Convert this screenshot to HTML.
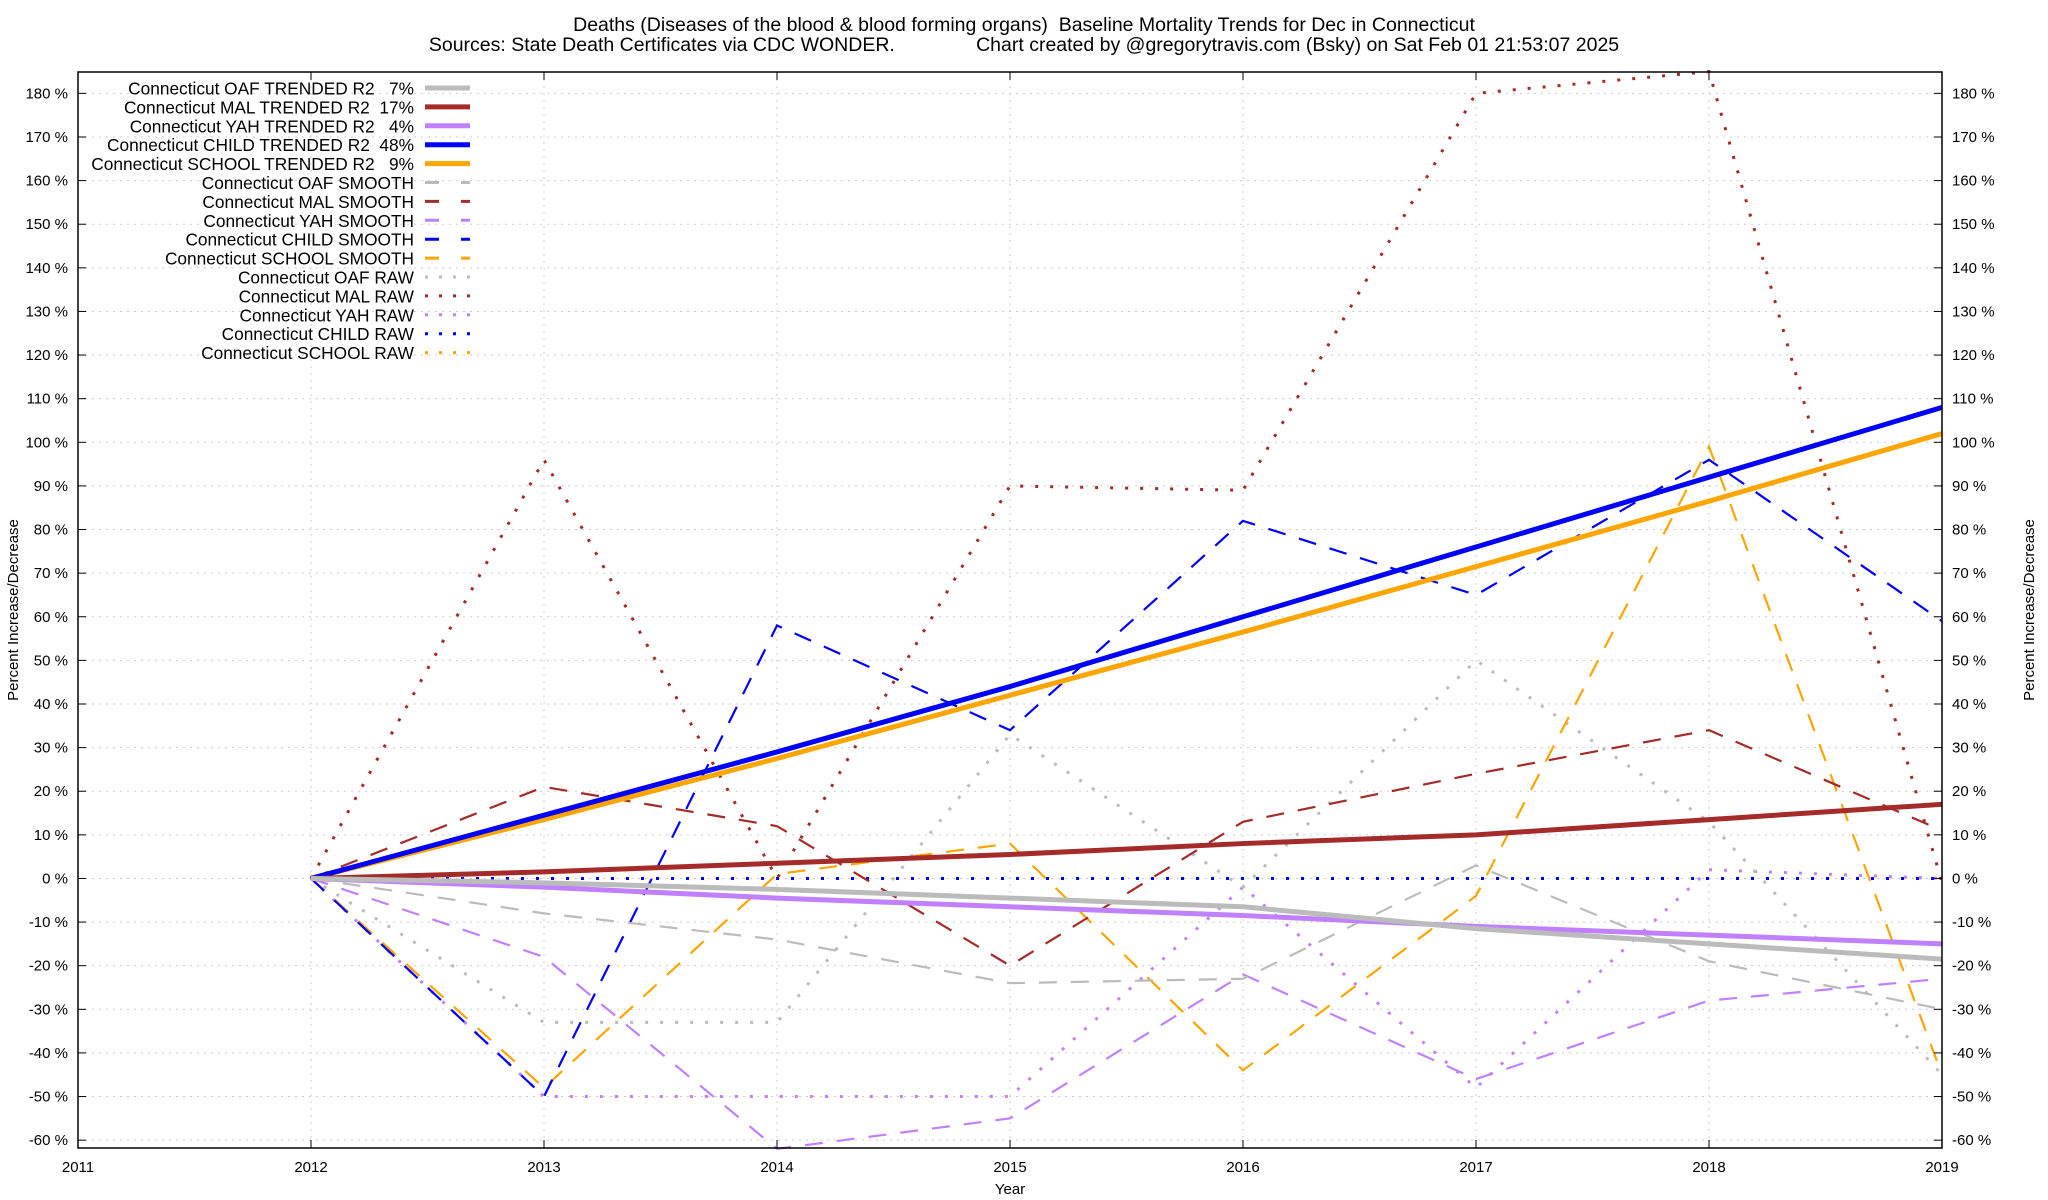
<!DOCTYPE html>
<html><head><meta charset="utf-8"><style>
body{margin:0;background:#fff}
svg{display:block;font-family:"Liberation Sans",Arial,sans-serif}
text{white-space:pre}
</style></head><body>
<svg id="c" width="2048" height="1200" viewBox="0 0 2048 1200">
<rect width="2048" height="1200" fill="#fff"/>
<text x="1024" y="31" font-size="19.5" text-anchor="middle">Deaths (Diseases of the blood &amp; blood forming organs)  Baseline Mortality Trends for Dec in Connecticut</text>
<text x="1024" y="51" font-size="19.5" text-anchor="middle">Sources: State Death Certificates via CDC WONDER.               Chart created by @gregorytravis.com (Bsky) on Sat Feb 01 21:53:07 2025</text>
<g id="grid"></g><g id="series"></g><g id="axes"></g><g id="legend"></g>
<text transform="translate(18,610) rotate(-90)" font-size="15" text-anchor="middle">Percent Increase/Decrease</text>
<text transform="translate(2034,610) rotate(-90)" font-size="15" text-anchor="middle">Percent Increase/Decrease</text>
<text x="1010" y="1194" font-size="15" text-anchor="middle">Year</text>
</svg>
<script>
const years=[2012,2013,2014,2015,2016,2017,2018,2019];
const xTicks=[2011,2012,2013,2014,2015,2016,2017,2018,2019];
const yTicks=[-60,-50,-40,-30,-20,-10,0,10,20,30,40,50,60,70,80,90,100,110,120,130,140,150,160,170,180];
const names=["OAF","MAL","YAH","CHILD","SCHOOL"];
const r2=["7%","17%","4%","48%","9%"];
const trendOAF=[0,-1,-2.5,-4.5,-6.5,-11.5,-15,-18.5];
const trendMAL=[0,1.5,3.5,5.5,8,10,13.5,17];
const trendYAH=[0,-2,-4.5,-6.5,-8.5,-11,-13,-15];
const trendCHILD=[0,14.5,29,44,60,76,92,108];
const trendSCHOOL=[0,13.5,27.5,42,56.5,71.5,86.5,102];
const smoothOAF=[0,-8,-14,-24,-23,3,-19,-30];
const smoothMAL=[0,21,12,-20,13,24,34,11];
const smoothYAH=[0,-18,-62,-55,-22,-46,-28,-23];
const smoothCHILD=[0,-50,58,34,82,65,96,59];
const smoothSCHOOL=[0,-48,1,8,-44,-4,99,-45];
const rawOAF=[0,-33,-33,33,-2,50,13,-45];
const rawMAL=[0,96,0,90,89,180,185,-1];
const rawYAH=[0,-50,-50,-50,-2,-48,2,0];
const rawCHILD=[0,0,0,0,0,0,0,0];
const rawSCHOOL=[0,0,0,0,0,0,0,0];
const colors=["#bbbbbb","#a52a2a","#c080ff","#0000ff","#ffa500"];
const L=78,R=1942,T=72,B=1148,yMin=-61.8,yMax=184.9;
const X=v=>L+(v-2011)/(2019-2011)*(R-L);
const Y=v=>B-(v-yMin)/(yMax-yMin)*(B-T);
const NS="http://www.w3.org/2000/svg";
function mk(tag,attrs,parent){const e=document.createElementNS(NS,tag);for(const k in attrs)e.setAttribute(k,attrs[k]);document.getElementById(parent).appendChild(e);return e;}
yTicks.forEach(t=>{
 const g=mk("line",{x1:L,x2:R,y1:Y(t),y2:Y(t),stroke:"#ccc","stroke-dasharray":"2,5","stroke-width":1},"grid");
 
 
 mk("line",{x1:L,x2:L+8,y1:Y(t),y2:Y(t),stroke:"#000"},"axes");
 mk("line",{x1:R-8,x2:R,y1:Y(t),y2:Y(t),stroke:"#000"},"axes");
 const a=mk("text",{x:L-10,y:Y(t)+5,"font-size":15,"text-anchor":"end"},"axes");a.textContent=t+" %";
 
 
 const b=mk("text",{x:R+10,y:Y(t)+5,"font-size":15},"axes");b.textContent=t+" %";
 
 
});
xTicks.forEach(t=>{
 const g=mk("line",{x1:X(t),x2:X(t),y1:T,y2:B,stroke:"#ccc","stroke-dasharray":"2,5"},"grid");
 
 
 mk("line",{x1:X(t),x2:X(t),y1:B,y2:B-8,stroke:"#000"},"axes");
 mk("line",{x1:X(t),x2:X(t),y1:T,y2:T+8,stroke:"#000"},"axes");
 const a=mk("text",{x:X(t),y:B+24,"font-size":15,"text-anchor":"middle"},"axes");a.textContent=t;
 
 
});
const fr=mk("rect",{x:L,y:T,width:R-L,height:B-T,fill:"none",stroke:"#000","stroke-width":1.5},"axes");


const trends=[trendOAF,trendMAL,trendYAH,trendCHILD,trendSCHOOL];
const smooths=[smoothOAF,smoothMAL,smoothYAH,smoothCHILD,smoothSCHOOL];
const raws=[rawOAF,rawMAL,rawYAH,rawCHILD,rawSCHOOL];
const styles=[{w:5,d:""},{w:2.2,d:"18,14"},{w:3,d:"3,12"}];
function pts(arr){return arr.map((v,i)=>X(years[i])+","+Y(v)).join(" ");}
[[raws,2,"raw"],[smooths,1,"smooth"],[trends,0,"trend"]].forEach(([set,si,kind])=>{
 for(let i=4;i>=0;i--){
  const p=mk("polyline",{points:pts(set[i]),fill:"none",stroke:colors[i],"stroke-width":styles[si].w,"stroke-dasharray":styles[si].d},"series");
  
  
 }
});
const labels=[];
names.forEach((n,i)=>labels.push(["Connecticut "+n+" TRENDED R2 "+(r2[i].length<3?"  ":" ")+r2[i],i,0]));
names.forEach((n,i)=>labels.push(["Connecticut "+n+" SMOOTH",i,1]));
names.forEach((n,i)=>labels.push(["Connecticut "+n+" RAW",i,2]));
labels.forEach((l,k)=>{
 const y=88+k*18.9;
 const t=mk("text",{x:414,y:y+6.5,"font-size":17.3,"text-anchor":"end"},"legend");t.textContent=l[0];
 
 
 const s=styles[l[2]];
 const d=l[2]==1?"14,22":(l[2]==2?"3,11":"");
 const ln=mk("line",{x1:425,x2:470,y1:y,y2:y,stroke:colors[l[1]],"stroke-width":s.w+(l[2]==1?0.8:0),"stroke-dasharray":d},"legend");
 
 
});
</script>
</body></html>
